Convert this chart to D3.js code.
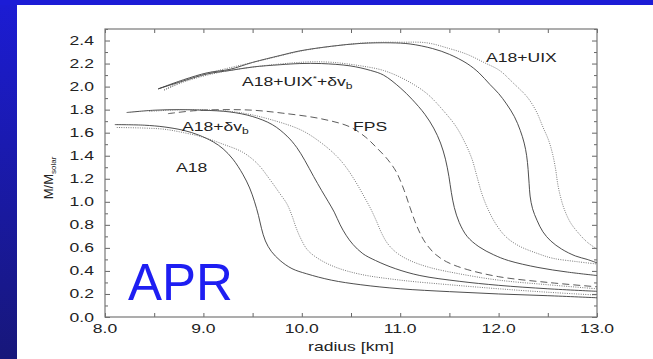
<!DOCTYPE html>
<html>
<head>
<meta charset="utf-8">
<script src="https://cdn.jsdelivr.net/npm/d3@7"></script>
<style>
  html, body { margin: 0; padding: 0; background: #fff; overflow: hidden; }
  svg { display: block; }
  text { font-family: "Liberation Sans", Arial, sans-serif; }
</style>
</head>
<body>
<script>
// tick values
let xTicks = [8.0, 9.0, 10.0, 11.0, 12.0, 13.0]
let yTicks = [0.0, 0.2, 0.4, 0.6, 0.8, 1.0, 1.2, 1.4, 1.6, 1.8, 2.0, 2.2, 2.4]

// mass-radius curves, [radius km, M/Msolar]
let a18 = [[8.10,1.67],[8.4,1.665],[8.6,1.65],[8.8,1.62],[8.95,1.58],[9.1,1.52],[9.2,1.46],[9.3,1.37],[9.4,1.24],[9.47,1.12],[9.52,1.0],[9.56,0.88],[9.59,0.77],[9.63,0.66],[9.69,0.57],[9.78,0.49],[9.9,0.42],[10.05,0.375],[10.3,0.32],[10.6,0.28],[11.0,0.245],[11.5,0.22],[12.0,0.2],[12.5,0.185],[13.0,0.167]]
let a18Rel = [[8.12,1.645],[8.4,1.64],[8.6,1.63],[8.8,1.6],[9.0,1.56],[9.2,1.5],[9.4,1.43],[9.55,1.33],[9.67,1.2],[9.77,1.08],[9.85,0.98],[9.9,0.88],[9.94,0.78],[9.99,0.68],[10.06,0.58],[10.18,0.5],[10.35,0.43],[10.6,0.37],[11.0,0.32],[11.5,0.28],[12.0,0.245],[12.5,0.215],[13.0,0.19]]
let a18dv = [[8.22,1.775],[8.5,1.795],[8.76,1.80],[9.0,1.795],[9.27,1.78],[9.5,1.74],[9.7,1.67],[9.85,1.57],[9.95,1.47],[10.03,1.36],[10.12,1.22],[10.2,1.1],[10.27,1.0],[10.33,0.91],[10.39,0.8],[10.45,0.71],[10.52,0.63],[10.62,0.55],[10.75,0.49],[10.95,0.42],[11.2,0.36],[11.6,0.31],[12.0,0.275],[12.5,0.245],[13.0,0.223]]
let a18dvRel = [[8.45,1.785],[8.8,1.80],[9.1,1.795],[9.4,1.77],[9.7,1.71],[10.0,1.62],[10.2,1.51],[10.35,1.40],[10.45,1.30],[10.55,1.17],[10.63,1.05],[10.7,0.94],[10.76,0.83],[10.81,0.73],[10.87,0.64],[10.96,0.56],[11.1,0.49],[11.3,0.43],[11.6,0.375],[12.0,0.32],[12.5,0.28],[13.0,0.245]]
let fps = [[8.64,1.765],[8.9,1.79],[9.2,1.80],[9.5,1.795],[9.8,1.77],[10.2,1.72],[10.49,1.65],[10.65,1.56],[10.76,1.47],[10.87,1.37],[10.96,1.26],[11.04,1.1],[11.1,0.95],[11.15,0.83],[11.2,0.73],[11.26,0.64],[11.35,0.55],[11.47,0.48],[11.65,0.42],[12.0,0.35],[12.5,0.3],[13.0,0.262]]
let uixStar = [[8.54,1.98],[8.8,2.05],[9.04,2.11],[9.27,2.14],[9.5,2.17],[9.78,2.19],[9.98,2.20],[10.2,2.2],[10.49,2.18],[10.7,2.14],[10.83,2.10],[11.0,1.99],[11.12,1.89],[11.25,1.76],[11.34,1.64],[11.41,1.51],[11.46,1.37],[11.495,1.22],[11.52,1.08],[11.55,0.95],[11.6,0.82],[11.68,0.7],[11.8,0.61],[11.95,0.54],[12.1,0.49],[12.4,0.43],[12.7,0.39],[13.0,0.36]]
let uixStarRel = [[8.60,1.97],[8.8,2.04],[9.04,2.10],[9.3,2.145],[9.6,2.18],[9.9,2.205],[10.1,2.215],[10.32,2.21],[10.6,2.18],[10.83,2.14],[11.05,2.06],[11.27,1.94],[11.45,1.78],[11.57,1.65],[11.66,1.51],[11.73,1.37],[11.78,1.22],[11.83,1.07],[11.89,0.94],[11.97,0.81],[12.07,0.7],[12.2,0.62],[12.4,0.55],[12.55,0.51],[12.8,0.48],[13.0,0.46]]
let uix = [[8.54,1.98],[8.8,2.06],[9.04,2.12],[9.27,2.15],[9.5,2.21],[9.78,2.27],[9.98,2.31],[10.3,2.35],[10.6,2.375],[10.9,2.38],[11.1,2.37],[11.33,2.33],[11.5,2.28],[11.68,2.20],[11.8,2.12],[11.91,2.02],[12.0,1.94],[12.08,1.85],[12.16,1.74],[12.22,1.62],[12.26,1.51],[12.285,1.40],[12.3,1.28],[12.31,1.16],[12.32,1.05],[12.345,0.94],[12.39,0.84],[12.45,0.74],[12.53,0.66],[12.64,0.59],[12.78,0.53],[12.9,0.5],[13.0,0.47]]
let uixRel = [[8.60,1.97],[8.8,2.05],[9.04,2.115],[9.3,2.17],[9.6,2.23],[10.0,2.31],[10.3,2.35],[10.65,2.38],[11.0,2.385],[11.27,2.38],[11.5,2.33],[11.68,2.28],[11.85,2.21],[12.01,2.14],[12.15,2.03],[12.29,1.91],[12.38,1.79],[12.45,1.65],[12.51,1.53],[12.55,1.41],[12.58,1.28],[12.6,1.16],[12.63,1.04],[12.67,0.93],[12.73,0.82],[12.81,0.73],[12.9,0.65],[13.0,0.59]]

let W = 653, H = 359
let x = d3.scaleLinear().domain([8, 13]).range([105, 597])
let y = d3.scaleLinear().domain([0, 2.5]).range([317, 29])

let svg = d3.select("body").append("svg")
    .attr("width", W)
    .attr("height", H)

// slide background
let defs = svg.append("defs")
let grad = defs.append("linearGradient")
    .attr("id", "side")
    .attr("x1", 0).attr("y1", 0).attr("x2", 0).attr("y2", 1)
grad.append("stop").attr("offset", "0%").attr("stop-color", "#1c1cd4")
grad.append("stop").attr("offset", "100%").attr("stop-color", "#17177a")

svg.append("rect").attr("width", W).attr("height", H).attr("fill", "#fff")
svg.append("rect").attr("x", 0).attr("y", 0).attr("width", 17).attr("height", H).attr("fill", "url(#side)")
svg.append("rect").attr("x", 0).attr("y", 0).attr("width", W).attr("height", 5).attr("fill", "#1c1cd6")

defs.append("clipPath").attr("id", "plot")
    .append("rect")
    .attr("x", x(8)).attr("y", y(2.5))
    .attr("width", x(13) - x(8)).attr("height", y(0) - y(2.5))

// stretched text, the scanned figure is wider than it is tall
let stext = (g, px, py, anchor, size) => {
    return g.append("text")
        .attr("transform", `translate(${px},${py}) scale(1.35,1)`)
        .attr("text-anchor", anchor)
        .attr("font-size", size)
        .attr("fill", "#222")
}

// axes, ticks pointing inward
let minorX = d3.range(8, 13.01, 0.5)
let minorY = d3.range(0, 2.501, 0.1)

let drawAxis = (axis, tr) => {
    let g = svg.append("g").attr("transform", tr).call(axis)
    g.select(".domain").remove()
    g.selectAll(".tick line").attr("stroke", "#666").attr("stroke-width", 1)
    g.selectAll(".tick text").remove()
}

let isMajorY = v => Math.abs(v * 5 - Math.round(v * 5)) < 1e-6

drawAxis(d3.axisBottom(x).tickValues(minorX).tickSize(-4), `translate(0,${y(0)})`)
drawAxis(d3.axisTop(x).tickValues(minorX).tickSize(-4), `translate(0,${y(2.5)})`)
drawAxis(d3.axisLeft(y).tickValues(minorY.filter(v => !isMajorY(v))).tickSize(-3), `translate(${x(8)},0)`)
drawAxis(d3.axisLeft(y).tickValues(minorY.filter(isMajorY)).tickSize(-5), `translate(${x(8)},0)`)
drawAxis(d3.axisRight(y).tickValues(minorY.filter(v => !isMajorY(v))).tickSize(-3), `translate(${x(13)},0)`)
drawAxis(d3.axisRight(y).tickValues(minorY.filter(isMajorY)).tickSize(-5), `translate(${x(13)},0)`)

svg.append("rect")
    .attr("x", x(8)).attr("y", y(2.5))
    .attr("width", x(13) - x(8)).attr("height", y(0) - y(2.5))
    .attr("fill", "none")
    .attr("stroke", "#777")
    .attr("stroke-width", 1.2)

let fmt = d3.format(".1f")
xTicks.forEach(v => stext(svg, x(v), 333, "middle", 13).text(fmt(v)))
yTicks.forEach(v => stext(svg, 94, y(v) + 4.5, "end", 13).text(fmt(v)))

stext(svg, 351, 351, "middle", 13).text("radius [km]")

let yt = svg.append("text")
    .attr("transform", "translate(53,178) rotate(-90)")
    .attr("text-anchor", "middle")
    .attr("font-size", 13)
    .attr("fill", "#222")
yt.append("tspan").text("M/M")
yt.append("tspan").attr("font-size", 8).attr("dy", 3).text("solar")

// curves
let line = d3.line()
    .x(d => x(d[0]))
    .y(d => y(d[1]))
    .curve(d3.curveCatmullRom.alpha(0.5))

let styles = {
    solid: { color: "#3a3a3a", width: 0.9, dash: null },
    dotted: { color: "#6a6a6a", width: 0.9, dash: "1,1.3" },
    dashed: { color: "#4a4a4a", width: 0.9, dash: "7,4" }
}

let series = [
    [a18, "solid"], [a18Rel, "dotted"],
    [a18dv, "solid"], [a18dvRel, "dotted"],
    [fps, "dashed"],
    [uixStar, "solid"], [uixStarRel, "dotted"],
    [uix, "solid"], [uixRel, "dotted"]
]

svg.append("g")
    .attr("clip-path", "url(#plot)")
    .selectAll("path")
    .data(series)
    .enter().append("path")
    .attr("d", d => line(d[0]))
    .attr("fill", "none")
    .attr("stroke", d => styles[d[1]].color)
    .attr("stroke-width", d => styles[d[1]].width)
    .attr("stroke-dasharray", d => styles[d[1]].dash)

// curve labels
let t1 = stext(svg, 486, 61.5, "start", 13)
t1.append("tspan").text("A18+UIX")

let t2 = stext(svg, 242, 85.5, "start", 13)
t2.append("tspan").text("A18+UIX")
t2.append("tspan").attr("font-size", 8).attr("dy", -5).text("*")
t2.append("tspan").attr("dy", 5).text("+δv")
t2.append("tspan").attr("font-size", 9).attr("dy", 3).text("b")

let t3 = stext(svg, 182, 130.5, "start", 13)
t3.append("tspan").text("A18+δv")
t3.append("tspan").attr("font-size", 9).attr("dy", 3).text("b")

stext(svg, 353, 130.5, "start", 13).text("FPS")
stext(svg, 176, 171.5, "start", 13).text("A18")

// slide overlay
svg.append("text")
    .attr("x", 128)
    .attr("y", 300)
    .attr("font-size", 51)
    .attr("fill", "#1e1ef2")
    .text("APR")
</script>
</body>
</html>
